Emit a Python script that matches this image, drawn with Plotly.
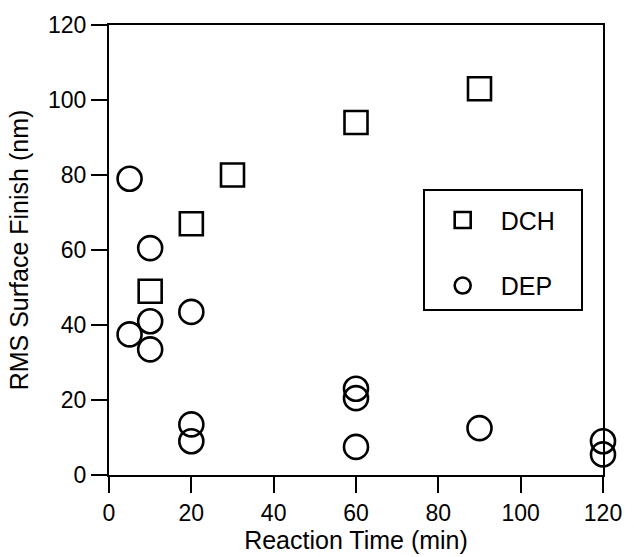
import plotly.graph_objects as go

dch_time = [10, 20, 30, 60, 90]
dch_rms = [49, 67, 80, 94, 103]

dep_time = [5, 5, 10, 10, 10, 20, 20, 20, 60, 60, 60, 90, 120, 120]
dep_rms = [79, 37.5, 60.5, 41, 33.5, 43.5, 13.5, 9, 23, 20.5, 7.5, 12.5, 9, 5.5]

x_ticks = [0, 20, 40, 60, 80, 100, 120]
y_ticks = [0, 20, 40, 60, 80, 100, 120]

FONT = "Liberation Sans, Arial, sans-serif"

fig = go.Figure()
fig.add_trace(go.Scatter(
    x=dch_time, y=dch_rms, mode="markers", name="DCH   ", legendgroup="a",
    marker=dict(symbol="square-open", size=23, color="black", line=dict(width=2.6, color="black")),
    cliponaxis=False,
))
fig.add_trace(go.Scatter(
    x=dep_time, y=dep_rms, mode="markers", name="DEP   ", legendgroup="b",
    marker=dict(symbol="circle-open", size=24, color="black", line=dict(width=2.6, color="black")),
    cliponaxis=False,
))

axis_common = dict(
    showline=True, linecolor="black", linewidth=2, mirror=True,
    ticks="outside", ticklen=16, tickwidth=2, tickcolor="black",
    showgrid=False, zeroline=False,
    tickfont=dict(family=FONT, size=23, color="black"),
)

fig.update_xaxes(range=[0, 120], tickvals=x_ticks,
                 title=dict(text="Reaction Time (min)", font=dict(family=FONT, size=25, color="black"), standoff=2),
                 **axis_common)
fig.update_yaxes(range=[0, 120], tickvals=y_ticks,
                 title=dict(text="RMS Surface Finish (nm)", font=dict(family=FONT, size=25, color="black"), standoff=12),
                 **axis_common)

fig.update_layout(
    width=634, height=557,
    margin=dict(l=109, r=23, t=25, b=82),
    paper_bgcolor="white", plot_bgcolor="white",
    showlegend=True,
    legend=dict(
        x=0.635, y=0.636, xanchor="left", yanchor="top",
        bordercolor="black", borderwidth=2, bgcolor="white",
        font=dict(family=FONT, size=25, color="black"),
        title=dict(text=" ", font=dict(size=5)),
        tracegroupgap=30, itemsizing="trace", itemwidth=66,
    ),
)

fig.write_html("out.html")
